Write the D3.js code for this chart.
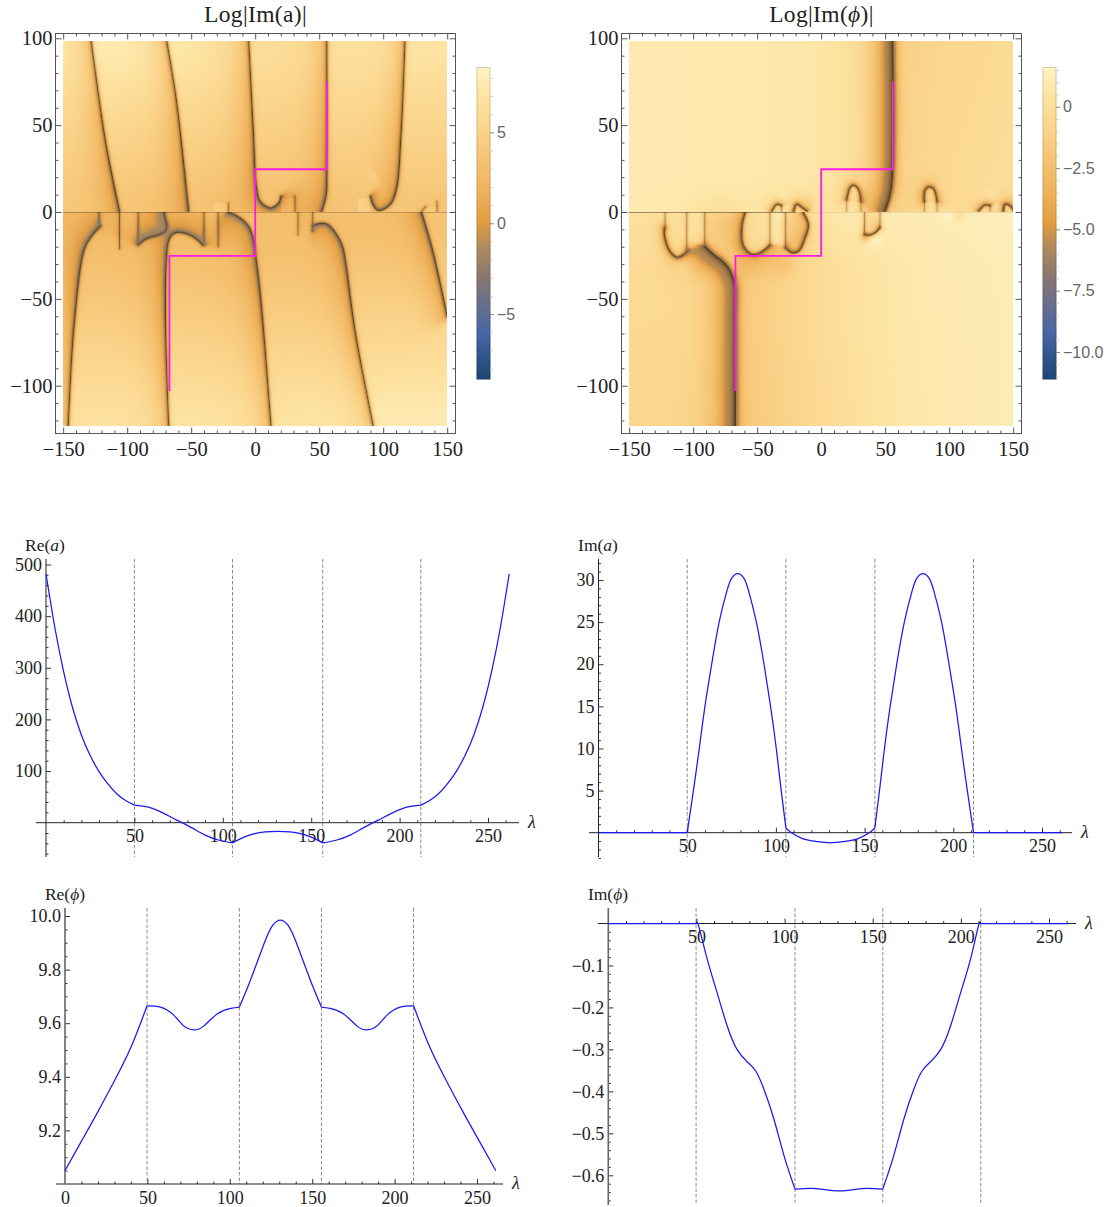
<!DOCTYPE html>
<html><head><meta charset="utf-8">
<script src="https://cdn.jsdelivr.net/npm/d3@7"></script>
<style>html,body{margin:0;background:#fff}svg{display:block}</style></head><body>
<div id="c"></div>
<script>
// ---------- line plot data ----------
const reALam=[0,5,10,15,20,25,30,35,40,45,50,58,66,74,82,90,98,105.5,112,118,124,131,138,144,150,156.5,164,172,180,188,196,204,212,217,222,227,232,237,242,247,252,257,262];
const reAVal=[482,378,292,223,170,130,99,75,56,43,34,30,19,5,-9,-24,-34,-39,-28,-21,-18,-17,-18,-21,-28,-39,-34,-24,-9,5,19,30,34,43,56,75,99,130,170,223,292,378,482];
const imALam=[0,25,50,53.5,56.8,60,63.8,68,72.5,75,78.5,82,84.5,89,93.3,97,100.2,103,105.6,108,115,123,130.7,138.4,146.4,153.4,155.8,158.4,161.2,164.4,168.1,172.4,176.9,179.4,182.9,186.4,188.9,193.4,197.6,201.4,204.6,207.9,211.4,236,261.4];
const imAVal=[0,0,0,5,10,15,20,25,28.8,30.2,30.75,30.2,28.8,25,20,15,10,5,0.6,0.1,-0.7,-1.05,-1.2,-1.05,-0.7,0.1,0.6,5,10,15,20,25,28.8,30.2,30.75,30.2,28.8,25,20,15,10,5,0,0,0];
const rePLam=[0,10,20,30,40,49.8,58,66,72,78.3,84.3,92.5,100.6,105.8,112.8,121,126,130.7,135.4,140.4,148.6,155.6,160.8,168.9,177.1,183.1,189.4,195.4,203.4,211.5,221.4,231.4,241.4,251.4,261.4];
const rePVal=[9.05,9.16,9.27,9.385,9.51,9.665,9.66,9.63,9.59,9.575,9.59,9.635,9.655,9.66,9.765,9.9,9.965,9.985,9.965,9.9,9.765,9.66,9.655,9.635,9.59,9.575,9.59,9.63,9.66,9.665,9.51,9.385,9.27,9.16,9.05];
const imPLam=[0,25,49.8,51.3,56,61.8,67.5,73,78.9,83.7,88.4,94,99.8,105.9,115,122.6,131,139.4,146.6,155.7,161.8,167.6,173.2,177.9,182.7,188.6,194.1,199.8,205.6,209.9,211.3,236,261];
const imPVal=[0,0,0,-0.007,-0.083,-0.166,-0.245,-0.30,-0.33,-0.352,-0.396,-0.467,-0.555,-0.633,-0.631,-0.634,-0.637,-0.634,-0.631,-0.633,-0.555,-0.467,-0.396,-0.352,-0.33,-0.30,-0.245,-0.166,-0.083,-0.007,0,0,0];
const reABreaks=[50,105.5,156.5,212];
const imABreaks=[50,105.6,155.8,211.4];
const rePBreaks=[49.8,105.8,155.6,211.5];
const imPBreaks=[49.8,105.9,155.7,211.3];

// ---------- heat map data: coarse level grids ----------
const aXs=[-150,-100,-50,0,50,100,150];
const aUpYs=[98,50,20,2];
const aUpVals=[[7.7,8.3,7.6,6.6,6.7,7.4,7.1],[5.6,5.6,5.4,5.0,5.1,5.5,5.4],[4.6,4.4,4.2,3.8,4.1,4.4,4.3],[4.0,3.5,3.3,3.1,3.1,3.5,3.5]];
const aLoYs=[-2,-20,-50,-90,-123];
const aLoVals=[[2.8,2.5,2.6,3.2,2.9,3.3,3.5],[2.9,3.0,2.9,3.0,3.2,3.4,3.8],[4.0,4.1,4.1,4.1,4.3,4.8,5.0],[5.6,5.8,5.7,5.7,5.9,6.4,6.6],[6.9,7.2,7.3,7.2,7.4,8.1,8.0]];
const pUpXs=[-150,-100,-50,0,55.9,56.1,100,150];
const pUpYs=[98,20,2];
const pUpVals=[[0.95,0.9,0.8,0.6,0.3,-1.2,-0.6,-0.3],[0.95,0.9,0.8,0.6,0.4,-1.0,-0.4,-0.1],[0.9,0.8,0.7,0.6,0.4,-1.0,-0.2,0.1]];
const pLoXs=[-150,-100,-67.1,-66.9,-20,20,60,100,150];
const pLoYs=[-2,-30,-123];
const pLoVals=[[0.2,0.1,0.1,0.0,0.3,0.8,1.0,1.1,1.2],[-0.2,-0.2,-0.2,-1.5,-0.5,0.2,0.7,1.0,1.1],[-0.7,-0.6,-0.3,-2.0,-0.8,0.0,0.6,0.9,1.1]];

// nodal curves of Log|Im(a)| (x, y)
const aU1=[[-128,98],[-117,41],[-106,0.5]];
const aU2=[[-69,98],[-61.5,64],[-52,0.5]];
const aU3=[[-5,98],[-1.3,45],[1,14],[4,6],[12.4,2.3],[19,6],[20,9]];
const aU4=[[56,98],[56,25.5],[55.4,10],[52,0.5]];
const aU5=[[117,98],[114,45],[110,12],[105,4],[96,1],[91.5,5],[90,9]];
const aU6=[[31,9],[31,0.5]];
const aU7=[[-21,5],[-21,0.5]];
const aU8=[[130,0.5],[133,3]];
const aU9=[[142,6],[142,0.5]];
const aL1=[[-146,-123.6],[-142,-70],[-134,-22.5],[-129,-15],[-121,-8]];
const aL2=[[-91.4,-18.6],[-85,-15.3],[-77,-13.4],[-70.5,-11.3],[-69,-8],[-70.5,-3.3],[-71,-0.3]];
const aL3=[[-67.5,-123.6],[-67.5,-16],[-62.6,-12],[-53.5,-12.5],[-45.6,-15.7],[-41,-19]];
const aL4=[[-21.4,-0.3],[-17,-1.3],[-9,-5.2],[-4,-10],[-0.8,-18.6],[0.5,-26],[4.5,-51],[12.4,-123.6]];
const aL5=[[45,-8],[49.6,-6.7],[56,-7],[62.6,-12],[68,-19.6],[70.4,-28],[78.4,-70],[92.4,-123.6]];
const aL6=[[130,-0.3],[134.4,-11],[139.6,-25],[150,-60]];
const aEdges=[[-122,-0.3,-8],[-106,-0.3,-21],[-91.5,-0.3,-19],[-40,-0.3,-19],[-29,-0.3,-20],[33.4,-0.3,-13],[45,-0.3,-11]];
// [x0, x1, y0, y1, offset]
const aPatches=[[-122,-106,0,-14,-0.5],[-106,-91.5,0,-19,0.5],[-40,-29,0,-18,0.5],[33.4,45,0,-11,-0.5],[-32,-21,0,5,1],[20,31,0,8,1.1],[80,90,0,8,1.1],[130,142,0,3,0.8]];

// nodal curves of Log|Im(phi)| (x, y)
const pR1=[[56,98],[56,25],[54,10],[50,0.5]];
const pR2=[[-91,-19.5],[-84,-24.4],[-76,-29],[-71,-34],[-67.3,-42],[-67,-60],[-67,-123.6]];
const pArchA=[[20,7],[22.6,14],[25.3,15.4],[29,13],[31,6]];
const pArchB=[[80.7,6],[81,12],[84,14.4],[88,13],[90.4,6]];
const pArchC=[[-38.5,0.5],[-34.6,4.4],[-31,3.5]];
const pArchD=[[-21.6,0.5],[-19,4.4],[-15,2.5],[-11,0.5]];
const pArchE=[[123,0.5],[128,4],[132,3.5]];
const pArchF=[[142.4,0.5],[143.7,4.4],[147.6,3.5],[150,1]];
const pLoopD=[[-122,-9],[-122.6,-12],[-119,-21.5],[-112.8,-26],[-107.6,-24.5],[-104,-22]];
const pLoopE=[[-59.4,-0.3],[-62,-9],[-60.7,-19.6],[-54,-24.4],[-47.7,-23.4],[-40,-19]];
const pLoopF=[[-28,-20.5],[-23,-23.4],[-17.7,-22.5],[-12.5,-14.8],[-10,-7],[-14,-0.3]];
const pLoopG=[[33.8,-13],[37,-13.4],[42,-12],[46,-9]];
const pEdges=[[-122,-0.3,-9],[-105,-0.3,-22],[-91,-0.3,-19.5],[-40,-0.3,-19],[-28,-0.3,-20.5],[33.8,-0.3,-13],[46,-0.3,-9]];
const pUpEdges=[[20,0.3,7],[31,0.3,6],[80.7,0.3,6],[90.4,0.3,6],[-31,0.3,3.5],[-21,0.3,4],[132,0.3,3.5],[142,0.3,4]];
const pPatches=[[-105,-91,0,-21,0.7],[-40,-28,0,-19,0.8],[-122,-105,0,-24,0.1],[20,31,0,6,0.7],[80.7,90.4,0,6,0.7],[-31,-21,0,4,0.6],[132,142,0,4,0.6],[33.8,46,0,-9,-0.8]];
// [x, y, spread, offset]
const pBumps=[[-108,-29,7,1.0],[-30,-31,8,-0.9],[-19,-11,13,-1.3],[34,-15,4,-2],[42,-16,6,0.8],[30,15,5,0.6],[92,14,5,0.6],[-30,6,6,0.7],[-11,6,6,-0.8],[132,9,7,0.8],[150,7,6,-0.6],[100,-2,4,0.7],[107,-3,4,-1.0],[-50,-13,12,0.6],[-80,-10,20,-1.1]];

const barAMajor=[-5,0,5], barPMajor=[0,-2.5,-5,-7.5,-10];
const xMajor=d3.range(-150,151,50), xMinor=d3.range(-150,151,10).filter(v=>v%50);
const yMajor=d3.range(-100,101,50), yMinor=d3.range(-120,101,10).filter(v=>v%50);
const lamMajor=[50,100,150,200,250], lamMinor=d3.range(10,261,10).filter(v=>v%50);

// ---------- setup ----------
const W=1106,H=1207;
const SERIF='"Liberation Serif",serif', SANS='"Liberation Sans",sans-serif';
const svg=d3.select('#c').append('svg').attr('width',W).attr('height',H).attr('font-family',SERIF);
const defs=svg.append('defs');
const tStops=[0,.08,.15,.25,.33,.42,.5,.6,.7,.8,.9,1];
const tCols=['#1d4672','#33578f','#4a66a5','#6c7088','#8a7670','#ad8a60','#e19c41','#eeb25c','#f5c272','#fad38a','#fde29f','#fff2c4'];
const cmap=d3.scaleLinear().domain(tStops).range(tCols).interpolate(d3.interpolateRgb).clamp(true);
const lut=(()=>{
  const raw=d3.range(1025).map(i=>d3.rgb(cmap(i/1024)));
  return raw.map((_,i)=>{
    const lo=Math.max(0,i-24),hi=Math.min(1024,i+24),s=raw.slice(lo,hi+1);
    return {r:d3.mean(s,c=>c.r),g:d3.mean(s,c=>c.g),b:d3.mean(s,c=>c.b)};
  });
})();

function gridLookup(xs,ys,vals){ // ys descending
  const ry=ys.slice().reverse();
  return (x,y)=>{
    const ix=Math.min(xs.length-2,Math.max(0,d3.bisectRight(xs,x)-1));
    const iy=Math.min(ry.length-2,Math.max(0,d3.bisectRight(ry,y)-1));
    const fx=Math.max(0,Math.min(1,(x-xs[ix])/(xs[ix+1]-xs[ix])));
    const fy=Math.max(0,Math.min(1,(y-ry[iy])/(ry[iy+1]-ry[iy])));
    const r0=vals[ys.length-1-iy], r1=vals[ys.length-2-iy];
    const a=r0[ix]*(1-fx)+r0[ix+1]*fx, b=r1[ix]*(1-fx)+r1[ix+1]*fx;
    return a*(1-fy)+b*fy;
  };
}
function boxBlur(arr,w,h,r){
  const tmp=new Float32Array(arr.length);
  for(let pass=0;pass<3;pass++){
    for(let j=0;j<h;j++){ for(let i=0;i<w;i++){ let s=0,n=0;
      for(let k=Math.max(0,i-r);k<=Math.min(w-1,i+r);k++){s+=arr[j*w+k];n++;}
      tmp[j*w+i]=s/n; } }
    for(let i=0;i<w;i++){ for(let j=0;j<h;j++){ let s=0,n=0;
      for(let k=Math.max(0,j-r);k<=Math.min(h-1,j+r);k++){s+=tmp[k*w+i];n++;}
      arr[j*w+i]=s/n; } }
  }
  return arr;
}
function samplePolyline(pts,x,y){
  const line=d3.line().x(d=>x(d[0])).y(d=>y(d[1])).curve(d3.curveCatmullRom.alpha(0.5));
  const p=svg.append('path').attr('d',line(pts));
  const n=p.node(),L=n.getTotalLength(),out=[];
  for(let s=0;s<=L;s+=2){const q=n.getPointAtLength(s);out.push([q.x,q.y]);}
  const q=n.getPointAtLength(L);out.push([q.x,q.y]);
  p.remove();
  return out;
}
function heatmap(cfg){
  const {x,y,fx0,fx1,fy0,fy1,domain}=cfg;
  const g=svg.append('g');
  const tOf=d3.scaleLinear().domain(domain).range([0,1]).clamp(true);
  const ix0=Math.round(x(-150)),ix1=Math.round(x(150)),iy0=41,iy1=426;
  const w=ix1-ix0,h=iy1-iy0;
  const cv=document.createElement('canvas');cv.width=w;cv.height=h;
  const ctx=cv.getContext('2d'),im=ctx.createImageData(w,h);
  const curves=cfg.curves.map(c=>({...c,s:samplePolyline(c.pts,x,y)}));
  const up=curves.filter(c=>c.half==='u'),lo=curves.filter(c=>c.half==='l');
  const zeroPx=y(0);
  const bumps=cfg.bumps.map(b=>({px:x(b[0]),py:y(b[1]),s:b[2],a:b[3]}));
  const hU=Math.floor(zeroPx-iy0),hL=h-hU;
  const bU=new Float32Array(w*hU),bL=new Float32Array(w*hL);
  for(let j=0;j<h;j++)for(let i=0;i<w;i++){
    const dx=x.invert(ix0+i+.5),dv=y.invert(iy0+j+.5);
    if(j<hU)bU[j*w+i]=cfg.baseU(dx,dv);else bL[(j-hU)*w+i]=cfg.baseL(dx,dv);
  }
  boxBlur(bU,w,hU,cfg.blur);boxBlur(bL,w,hL,cfg.blur);
  for(let j=0;j<h;j++){
    const py=iy0+j+.5,dv=y.invert(py),isUp=j<hU,set=isUp?up:lo;
    for(let i=0;i<w;i++){
      const px=ix0+i+.5,dx=x.invert(px);
      let v=isUp?bU[j*w+i]:bL[(j-hU)*w+i],ink=0;
      for(const p of cfg.patches){
        const ya=Math.min(p[2],p[3]),yb=Math.max(p[2],p[3]);
        if(dx>=p[0]&&dx<p[1]&&dv>=ya&&dv<yb)v+=p[4];
      }
      for(const b of bumps){const r2=(px-b.px)**2+(py-b.py)**2;v+=b.a*Math.exp(-r2/(2*b.s*b.s));}
      for(const c of set){
        let best=1e12,side=0,slen=1,cl=false;const s=c.s;
        for(let k=0;k<s.length-1;k++){
          const ax=s[k][0],ay=s[k][1],ex=s[k+1][0]-ax,ey=s[k+1][1]-ay,qx=px-ax,qy=py-ay;
          const len=ex*ex+ey*ey;let u=len>0?(qx*ex+qy*ey)/len:0;
          const clamped=(k===0&&u<0)||(k===s.length-2&&u>1);
          u=u<0?0:u>1?1:u;
          const rx=qx-u*ex,ry=qy-u*ey,d2=rx*rx+ry*ry;
          if(d2<best){best=d2;side=ex*qy-ey*qx;slen=Math.sqrt(len)||1;cl=clamped;}
        }
        const d=Math.sqrt(best),Lmin=Math.min(c.wr,c.wl);
        let L=side>0?c.wr:c.wl;
        if(cl&&d>0){const f=Math.min(1,Math.abs(side)/slen/d);L=Lmin+(L-Lmin)*f*f;}
        v-=c.k*Math.exp(-d/L)+c.core*Math.exp(-d/1.8);
        ink=Math.max(ink,c.ink*Math.exp(-d/Math.max(.8,Math.min(L/4,c.il))));
      }
      if(v<cfg.floor)v=cfg.floor;
      const col=lut[Math.round(tOf(v)*1024)],o=(j*w+i)*4,m=1-ink;
      im.data[o]=col.r*m;im.data[o+1]=col.g*m;im.data[o+2]=col.b*m;im.data[o+3]=255;
    }
  }
  for(let i=0;i<w;i++){
    const fade=cfg.cut(x.invert(ix0+i+.5));
    const o=(hU*w+i)*4;for(let ch=0;ch<3;ch++)im.data[o+ch]*=fade;
  }
  ctx.putImageData(im,0,0);
  g.append('image').attr('x',ix0).attr('y',iy0).attr('width',w).attr('height',h)
    .attr('href',cv.toDataURL()).style('filter','blur(0.45px)');
  g.append('path').attr('fill','none').attr('stroke','#fb1ce6').attr('stroke-width',1.8)
    .attr('d',d3.line().x(d=>x(d[0])).y(d=>y(d[1]))(cfg.contour));
  g.append('rect').attr('x',fx0).attr('y',fy0).attr('width',fx1-fx0).attr('height',fy1-fy0)
    .attr('fill','none').attr('stroke','#555');
  const ax=(gen,tx,ty,vals,size,labels)=>{
    const a=g.append('g').attr('transform',`translate(${tx},${ty})`)
      .call(gen.tickValues(vals).tickSize(size).tickPadding(labels?5:0).tickFormat(labels?d3.format('d'):''));
    a.select('.domain').remove();
    a.selectAll('line').attr('stroke','#555');
    a.selectAll('text').attr('font-family',SERIF).attr('font-size',20.5).attr('fill','#222');
    return a;
  };
  const bx=ax(d3.axisBottom(x),0,fy1,xMajor,-6,true);bx.selectAll('text').attr('y',8);
  ax(d3.axisBottom(x),0,fy1,xMinor,-3,false);
  ax(d3.axisTop(x),0,fy0,xMajor,-6,false);ax(d3.axisTop(x),0,fy0,xMinor,-3,false);
  const by=ax(d3.axisLeft(y),fx0,0,yMajor,-6,true);by.selectAll('text').attr('x',-3);
  ax(d3.axisLeft(y),fx0,0,yMinor,-3,false);
  ax(d3.axisRight(y),fx1,0,yMajor,-6,false);ax(d3.axisRight(y),fx1,0,yMinor,-3,false);
  g.append('text').attr('x',(fx0+fx1)/2).attr('y',21.5).attr('text-anchor','middle').attr('font-size',23.5).attr('letter-spacing','0.35').attr('fill','#222').html(cfg.title);
  const id=cfg.id;
  const mk=(gid,f)=>{const lg=defs.append('linearGradient').attr('id',gid).attr('x1',0).attr('x2',0).attr('y1',1).attr('y2',0);
    tStops.forEach((t,i)=>lg.append('stop').attr('offset',t).attr('stop-color',f(tCols[i])));};
  mk(id+'f',c=>c);mk(id+'s',c=>d3.rgb(c).darker(.45).formatHex());
  const b=cfg.bar,by2=d3.scaleLinear().domain(domain).range([b.y1,b.y0]);
  g.append('rect').attr('x',b.x).attr('y',b.y0).attr('width',b.w).attr('height',b.y1-b.y0)
    .attr('fill',`url(#${id}f)`).attr('stroke',`url(#${id}s)`);
  const ta=g.append('g').attr('transform',`translate(${b.x+b.w},0)`)
    .call(d3.axisRight(by2).tickValues(cfg.barMajor).tickSize(4).tickPadding(3).tickFormat(cfg.barFmt));
  ta.select('.domain').remove();ta.selectAll('line').attr('stroke','#888');
  ta.selectAll('text').attr('font-family',SANS).attr('font-size',16).attr('fill','#666');
  const tm=g.append('g').attr('transform',`translate(${b.x+b.w},0)`)
    .call(d3.axisRight(by2).tickValues(cfg.barMinor).tickSize(3).tickFormat(''));
  tm.select('.domain').remove();tm.selectAll('line').attr('stroke','#ccc');
}

// ---------- Log|Im(a)| ----------
const ax=d3.scaleLinear().domain([-150,150]).range([63.2,447.2]);
const hy=d3.scaleLinear().domain([-100,100]).range([385.7,38.3]);
const C=(pts,half,wr,wl,k,core,ink,il=1.2)=>({pts,half,wr,wl,k,core,ink,il});
const aMain=[4.5,2.5,.5], aThin=[1.5,2,.3];
const aCurves=[
 ...[aU1,aU2,aU3,aU4,aU5].map(p=>C(p,'u',14,1.5,...aMain)),
 ...[aU6,aU7,aU9].map(p=>C(p,'u',1,1,...aThin)),C(aU8,'u',3,1,2,2.5,.3),
 ...[aL1,aL2,aL3].map(p=>C(p,'l',1.5,14,...aMain)),
 ...[aL4,aL5,aL6].map(p=>C(p,'l',14,1.5,...aMain)),
 ...aEdges.map(e=>C([[e[0],e[1]],[e[0],e[2]]],'l',1,1,...aThin))
];
heatmap({id:'a',x:ax,y:hy,fx0:55.5,fx1:455.5,fy0:33.5,fy1:433.5,domain:[-8.57,8.57],blur:14,floor:-1.5,
 baseU:gridLookup(aXs,aUpYs,aUpVals),baseL:gridLookup(aXs,aLoYs,aLoVals),curves:aCurves,patches:aPatches,bumps:[],
 cut:d=>(d<-52)?.72:.8,
 contour:[[-67,-103],[-67,-25.3],[0,-25.3],[0,24.6],[56,24.6],[56,75.4]],
 title:'Log|Im(a)|',bar:{x:477,y0:67.5,y1:379,w:13},barMajor:barAMajor,barMinor:d3.range(-8,9).filter(v=>v%5),barFmt:d3.format('d')});

// ---------- Log|Im(phi)| ----------
const px=d3.scaleLinear().domain([-150,150]).range([629.2,1013.2]);
const pArc=[4,3,.45], pLoop=[4,3,.5];
const pCurves=[
 C(pR1,'u',14,3,10,0,.6,3.5),C(pR2,'l',14,3,10,0,.6,3.5),
 ...[pArchA,pArchB,pArchC,pArchD,pArchE,pArchF].map(p=>C(p,'u',1.5,5,...pArc)),
 C(pLoopD,'l',5,3,...pLoop),C(pLoopE,'l',12,2,...pLoop),C(pLoopF,'l',1.5,7,...pLoop),C(pLoopG,'l',1.5,5,...pLoop),
 ...pEdges.map(e=>C([[e[0],e[1]],[e[0],e[2]]],'l',1,1,1.5,1.5,.25)),
 ...pUpEdges.map(e=>C([[e[0],e[1]],[e[0],e[2]]],'u',1,1,1.2,1,.2))
];
heatmap({id:'p',x:px,y:hy,fx0:621.5,fx1:1021.5,fy0:33.5,fy1:433.5,domain:[-11.1,1.6],blur:2,floor:-5.4,
 baseU:gridLookup(pUpXs,pUpYs,pUpVals),baseL:gridLookup(pLoXs,pLoYs,pLoVals),curves:pCurves,patches:pPatches,bumps:pBumps,
 cut:d=>(d<-20)?.62:.92,
 contour:[[-67,-103],[-67,-25.3],[0,-25.3],[0,24.6],[56,24.6],[56,75.4]],
 title:'Log|Im(<tspan font-style="italic">ϕ</tspan>)|',bar:{x:1043,y0:67.5,y1:379,w:13},barMajor:barPMajor,barMinor:d3.range(-11,1.6,.5).filter(v=>v%2.5),
 barFmt:v=>v===0?'0':d3.format('.1f')(v)});

// ---------- line plots ----------
function linePlot(c){
  const g=svg.append('g');
  g.selectAll('.dash').data(c.breaks).join('line').attr('x1',d=>c.x(d)).attr('x2',d=>c.x(d))
    .attr('y1',c.yTop).attr('y2',c.yBot).attr('stroke','#8a8a8a').attr('stroke-width',1).attr('stroke-dasharray','3.5,2');
  const gx=g.append('g').attr('transform',`translate(0,${c.y0})`);
  const xa=gx.append('g').call(d3.axisBottom(c.x).tickValues(lamMajor).tickSize(-5).tickPadding(7).tickFormat(d3.format('d')));
  const xm=gx.append('g').call(d3.axisBottom(c.x).tickValues(lamMinor).tickSize(-2.5).tickFormat(''));
  if(c.zeroLabel){const z=gx.append('g').call(d3.axisBottom(c.x).tickValues([0]).tickSize(0).tickPadding(7).tickFormat(d3.format('d')));z.select('.domain').remove();z.selectAll('text').attr('font-family',SERIF).attr('font-size',18).attr('fill','#222');}
  [xa,xm].forEach(a=>a.select('.domain').remove());
  xa.selectAll('text').attr('font-family',SERIF).attr('font-size',18).attr('fill','#222');
  const ya=g.append('g').attr('transform',`translate(${c.x0},0)`)
    .call(d3.axisLeft(c.y).tickValues(c.yMajor).tickSize(-5).tickPadding(5).tickFormat(c.fmt));
  const ym=g.append('g').attr('transform',`translate(${c.x0},0)`)
    .call(d3.axisLeft(c.y).tickValues(c.yMinor).tickSize(-2.5).tickFormat(''));
  [ya,ym].forEach(a=>a.select('.domain').remove());
  ya.selectAll('text').attr('font-family',SERIF).attr('font-size',18).attr('fill','#222').attr('x',-4);
  g.selectAll('line').filter(function(){return this.parentNode.classList.contains('tick');}).attr('stroke','#333');
  g.append('line').attr('x1',c.ax0).attr('x2',c.ax1).attr('y1',c.y0).attr('y2',c.y0).attr('stroke','#222');
  g.append('line').attr('x1',c.x0).attr('x2',c.x0).attr('y1',c.yTop).attr('y2',c.yBot).attr('stroke',c.yStroke).attr('stroke-width',c.yW);
  const pts=c.lam.map((l,i)=>[l,c.val[i]]);
  const cuts=[-Infinity,...c.breaks,Infinity];
  const line=d3.line().x(d=>c.x(d[0])).y(d=>c.y(d[1])).curve(d3.curveNatural);
  const dd=d3.pairs(cuts).map(([a,b])=>line(pts.filter(p=>p[0]>=a&&p[0]<=b))).join('');
  g.append('path').attr('d',dd).attr('fill','none').attr('stroke','#1a1aee').attr('stroke-width',1.25);
  g.append('text').attr('x',c.lx).attr('y',c.ly).attr('text-anchor','middle').attr('font-size',17.5).attr('fill','#222').html(c.label);
  g.append('text').attr('x',c.ax1+9).attr('y',c.y0+5).attr('font-size',18).attr('font-style','italic').attr('fill','#222').text('λ');
}
const it=s=>`<tspan font-style="italic">${s}</tspan>`;
linePlot({lam:reALam,val:reAVal,breaks:reABreaks,x:d3.scaleLinear().domain([0,250]).range([46,488]),y:d3.scaleLinear().domain([0,500]).range([822.7,564.5]),
 x0:46,y0:822.7,ax0:36,ax1:519,yTop:559,yBot:857,yMajor:[100,200,300,400,500],yMinor:d3.range(-60,501,20).filter(v=>v%100),fmt:d3.format('d'),yStroke:'#222',yW:1,
 label:`Re(${it('a')})`,lx:45,ly:551});
linePlot({lam:imALam,val:imAVal,breaks:imABreaks,x:d3.scaleLinear().domain([0,250]).range([598.5,1042]),y:d3.scaleLinear().domain([0,30]).range([832.7,580]),
 x0:598.5,y0:832.7,ax0:589,ax1:1072,yTop:559,yBot:857,yMajor:[5,10,15,20,25,30],yMinor:d3.range(-3,33,1).filter(v=>v%5),fmt:d3.format('d'),yStroke:'#222',yW:1,
 label:`Im(${it('a')})`,lx:598,ly:551});
linePlot({lam:rePLam,val:rePVal,breaks:rePBreaks,x:d3.scaleLinear().domain([0,250]).range([65,477]),y:d3.scaleLinear().domain([9,10]).range([1184,916]),
 x0:65,y0:1184,ax0:56,ax1:503,yTop:908,yBot:1184,yMajor:[9.2,9.4,9.6,9.8,10],yMinor:d3.range(9.05,10.01,.05).filter(v=>Math.abs(v*5-Math.round(v*5))>.01),fmt:d3.format('.1f'),yStroke:'#666',yW:1.6,
 zeroLabel:true,label:`Re(${it('ϕ')})`,lx:65,ly:900});
linePlot({lam:imPLam,val:imPVal,breaks:imPBreaks,x:d3.scaleLinear().domain([0,250]).range([608.3,1049]),y:d3.scaleLinear().domain([-0.6,0]).range([1175.3,923.5]),
 x0:608.3,y0:923.5,ax0:598,ax1:1076,yTop:908,yBot:1205,yMajor:[-.1,-.2,-.3,-.4,-.5,-.6],yMinor:d3.range(-.66,0,.02).filter(v=>Math.abs(v*10-Math.round(v*10))>.01),fmt:d3.format('.1f'),yStroke:'#666',yW:1.6,
 label:`Im(${it('ϕ')})`,lx:608,ly:900});
</script></body></html>
